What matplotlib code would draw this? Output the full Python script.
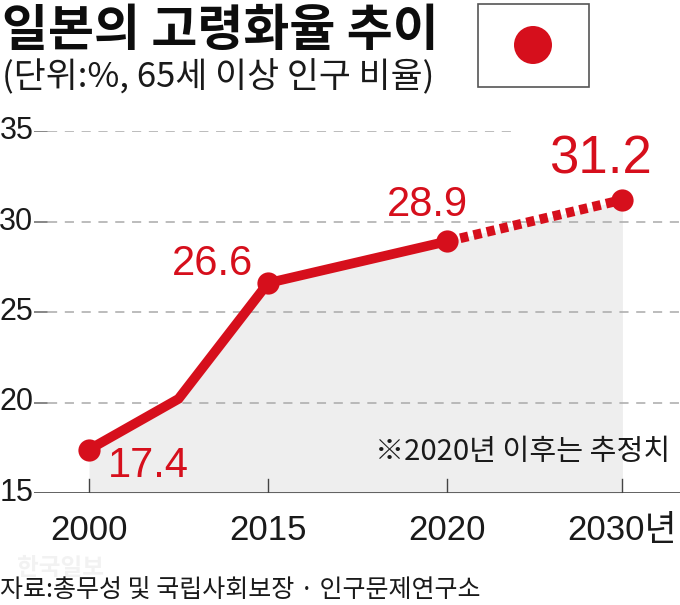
import matplotlib
matplotlib.use("Agg")
import matplotlib.pyplot as plt
from matplotlib.patches import Rectangle, Ellipse

FONT = ['Liberation Sans', 'Noto Sans CJK KR', 'DejaVu Sans']
KR = ['Noto Sans CJK KR', 'DejaVu Sans']
plt.rcParams['font.family'] = FONT

tick_labels = ['2000', '2015', '2020', '2030년']
tick_positions = [0, 1, 2, 2.98]
y_ticks = [15, 20, 25, 30, 35]
solid_x = [0, 0.5, 1, 2]
solid_y = [17.4, 20.2, 26.6, 28.9]
dotted_x = [2, 2.98]
dotted_y = [28.9, 31.2]
marker_x = [0, 1, 2, 2.98]
marker_y = [17.4, 26.6, 28.9, 31.2]
labels = ['17.4', '26.6', '28.9', '31.2']

RED = '#d60f1c'
W, H = 680, 605
fig = plt.figure(figsize=(W/100, H/100), dpi=100, facecolor='white')

bg = fig.add_axes([0, 0, 1, 1])
bg.set_xlim(0, W); bg.set_ylim(H, 0); bg.axis('off')

L, R, T, B = 34, 680, 131, 493
ax = fig.add_axes([L/W, 1-B/H, (R-L)/W, (B-T)/H])
ax.patch.set_alpha(0)
ax.set_xlim((L-89)/179, (R-89)/179)
ax.set_ylim(15, 35)
for s in ax.spines.values():
    s.set_visible(False)
ax.set_xticks([]); ax.set_yticks([])

ax.fill_between(solid_x + dotted_x[1:], solid_y + dotted_y[1:], 15, color='#eeeeee', lw=0, zorder=1)

for v in y_ticks[1:]:
    xmax = 0.745 if v == 35 else 1
    ax.plot([0.022, xmax], [v, v], transform=ax.get_yaxis_transform(), color='#aaaaaa', lw=1.1,
            dashes=(6, 5), zorder=2)
    ax.plot([0, 0.02], [v, v], transform=ax.get_yaxis_transform(), color='#666666', lw=1.1, zorder=2)
ax.axhline(15, color='#555555', lw=1.3, zorder=3)
for p in tick_positions:
    ax.plot([p, p], [15, 15.77], color='#444444', lw=1.0, zorder=3)

ax.plot(solid_x, solid_y, color=RED, lw=7, solid_joinstyle='miter', zorder=5)
ax.plot(dotted_x, dotted_y, color=RED, lw=7, dashes=(0.85, 0.55), dash_capstyle='butt', zorder=5)
ax.plot(marker_x, marker_y, 'o', color=RED, ms=16, mew=0, zorder=6)

for v in y_ticks:
    ax.annotate(str(v), (0, v), xycoords=ax.get_yaxis_transform(), xytext=(-0.5, 0), textcoords='offset points',
                ha='right', va='center', fontsize=22, color='#1a1a1a')

for p, t in zip(tick_positions, tick_labels):
    ax.annotate(t, (p, 15), xytext=(0, -27), textcoords='offset points', ha='center', va='center',
                fontsize=25, color='#1a1a1a')

offs = [(59, -16, 30), (-55, 19, 30), (-20, 36, 30), (-22, 40, 38)]
for x, y, t, (dx, dy, fs) in zip(marker_x, marker_y, labels, offs):
    ax.annotate(t, (x, y), xytext=(dx*0.72, dy*0.72), textcoords='offset points',
                ha='center', va='center', fontsize=fs, color=RED, zorder=7)

ax.text(0.985, 0.112, '※2020년 이후는 추정치', transform=ax.transAxes, ha='right', va='center',
        fontsize=21, color='#1a1a1a', family=KR)

bg.text(2, 32, '일본의 고령화율 추이', ha='left', va='center', fontsize=36, fontweight='bold',
        color='#0d0d0d', family=KR)
bg.text(2, 78, '(단위:%, 65세 이상 인구 비율)', ha='left', va='center', fontsize=25,
        color='#1a1a1a', family=KR)

bg.add_patch(Rectangle((478, 4), 111, 83, fc='white', ec='#555555', lw=1.2))
bg.add_patch(Ellipse((533, 45), 38, 38, fc=RED, ec='none'))

bg.text(17, 568, '한국일보', ha='left', va='center', fontsize=17, fontweight='bold', color='#f2f2f2', family=KR)
bg.text(0, 591, '자료:총무성 및 국립사회보장 · 인구문제연구소', ha='left', va='center', fontsize=18,
        color='#1a1a1a', family=KR)

fig.savefig('out.png', dpi=100)
